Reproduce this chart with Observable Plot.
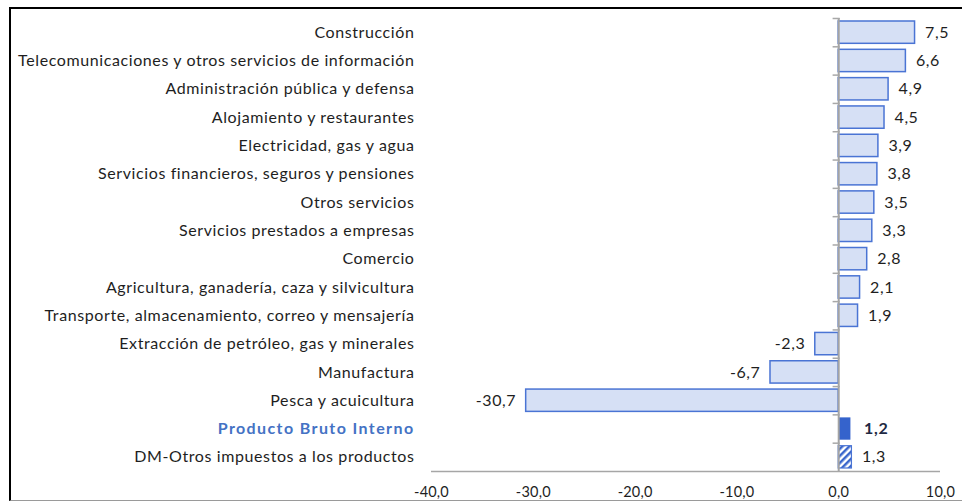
<!DOCTYPE html>
<html><head><meta charset="utf-8">
<script src="https://cdn.jsdelivr.net/npm/d3@7"></script>
<script src="https://cdn.jsdelivr.net/npm/@observablehq/plot@0.6"></script>
<style>
body{margin:0;background:#fff;overflow:hidden}
#chart{position:absolute;left:0;top:0}
#frame{position:absolute;left:9px;top:7px;width:980px;height:491px;border-left:2.5px solid #000;border-top:2.5px solid #000;border-bottom:1.5px solid #9a9a9a;pointer-events:none}
</style>
</head><body><div id="chart"></div><div id="frame"></div>
<script>
const categories = [
  "Construcción",
  "Telecomunicaciones y otros servicios de información",
  "Administración pública y defensa",
  "Alojamiento y restaurantes",
  "Electricidad, gas y agua",
  "Servicios financieros, seguros y pensiones",
  "Otros servicios",
  "Servicios prestados a empresas",
  "Comercio",
  "Agricultura, ganadería, caza y silvicultura",
  "Transporte, almacenamiento, correo y mensajería",
  "Extracción de petróleo, gas y minerales",
  "Manufactura",
  "Pesca y acuicultura",
  "Producto Bruto Interno",
  "DM-Otros impuestos a los productos"
];
const values = [7.5, 6.6, 4.9, 4.5, 3.9, 3.8, 3.5, 3.3, 2.8, 2.1, 1.9, -2.3, -6.7, -30.7, 1.2, 1.3];
const highlight = "Producto Bruto Interno";
const hatched = "DM-Otros impuestos a los productos";
const xTicks = [-40, -30, -20, -10, 0, 10];

const data = categories.map((c, i) => ({cat: c, value: values[i]}));
const fmt = v => v.toFixed(1).replace(".", ",");
const lastCat = categories[categories.length - 1];
const normal = data.filter(d => d.cat !== highlight && d.cat !== hatched);
const pbi = data.filter(d => d.cat === highlight);
const dm = data.filter(d => d.cat === hatched);
const others = data.filter(d => d.cat !== highlight);
const half = (471.2 - 17.8) / categories.length / 2;

const font = "Lato, 'Noto Sans', sans-serif";
const chart = Plot.plot({
  width: 962,
  height: 502,
  marginLeft: 431,
  marginRight: 22,
  marginTop: 18,
  marginBottom: 31,
  style: {fontFamily: font, background: "transparent"},
  x: {domain: [-40, 10], axis: null},
  y: {domain: categories, padding: 0, axis: null, round: false},
  marks: [
    Plot.barX(normal, {x: "value", y: "cat", fill: "#d6e0f5", stroke: "#4a74d4", strokeWidth: 1.5, insetTop: 3, insetBottom: 3}),
    Plot.barX(pbi, {x: "value", y: "cat", fill: "#3563cc", insetTop: 3, insetBottom: 3}),
    Plot.barX(dm, {x: "value", y: "cat", fill: "url(#hatch)", stroke: "#4a74d4", strokeWidth: 1.2, insetTop: 3, insetBottom: 3}),
    Plot.ruleX([0], {stroke: "#a3a3a3", strokeWidth: 2}),
    Plot.ruleY(categories, {y: d => d, x1: -0.55, x2: 0.15, dy: -half, stroke: "#a8a8a8", strokeWidth: 1.5}),
    Plot.ruleY([lastCat], {y: d => d, x1: -40, x2: 10, dy: half, stroke: "#a6a6a6", strokeWidth: 1.5}),
    Plot.ruleX(xTicks, {x: d => d, y: () => lastCat, dy: 6, insetTop: 2 * half - 11, stroke: "#a6a6a6", strokeWidth: 1.5}),
    Plot.text(xTicks, {x: d => d, y: () => lastCat, dy: half + 21, text: fmt, fontSize: 14.5, fill: "#1e1e1e"}),
    Plot.text(others, {frameAnchor: "left", y: "cat", dx: -17, text: "cat", textAnchor: "end", fontSize: 16, fill: "#1e1e1e"}),
    Plot.text(pbi, {frameAnchor: "left", y: "cat", dx: -17, text: "cat", textAnchor: "end", fontSize: 16, fontWeight: "bold", fill: "#4472c4"}),
    Plot.text(others, {x: "value", y: "cat", text: d => fmt(d.value), textAnchor: "start", fontSize: 16, fill: "#1e1e1e", filter: d => d.value >= 0, dx: 10}),
    Plot.text(data, {x: "value", y: "cat", text: d => fmt(d.value), textAnchor: "end", fontSize: 16, fill: "#1e1e1e", filter: d => d.value < 0, dx: -10}),
    Plot.text(pbi, {x: "value", y: "cat", text: d => fmt(d.value), textAnchor: "start", fontSize: 16, fontWeight: "bold", fill: "#1f2a44", dx: 13})
  ]
});
const ns = "http://www.w3.org/2000/svg";
const defs = document.createElementNS(ns, "defs");
defs.innerHTML = '<pattern id="hatch" patternUnits="userSpaceOnUse" width="5" height="5" patternTransform="rotate(45)"><rect width="5" height="5" fill="#ffffff"/><rect width="2.5" height="5" fill="#3a66cc"/></pattern>';
chart.insertBefore(defs, chart.firstChild);
// letter spacing per text layer (ticks, labels, PBI label, positive values, negative values, PBI value)
const spacing = ["0.2px", "0.6px", "1.4px", "0.6px", "0.6px", "0.8px"];
chart.querySelectorAll('g[aria-label="text"]').forEach((g, i) => {
  g.style.letterSpacing = spacing[i] || "0.6px";
});
document.getElementById("chart").appendChild(chart);
</script>
</body></html>
